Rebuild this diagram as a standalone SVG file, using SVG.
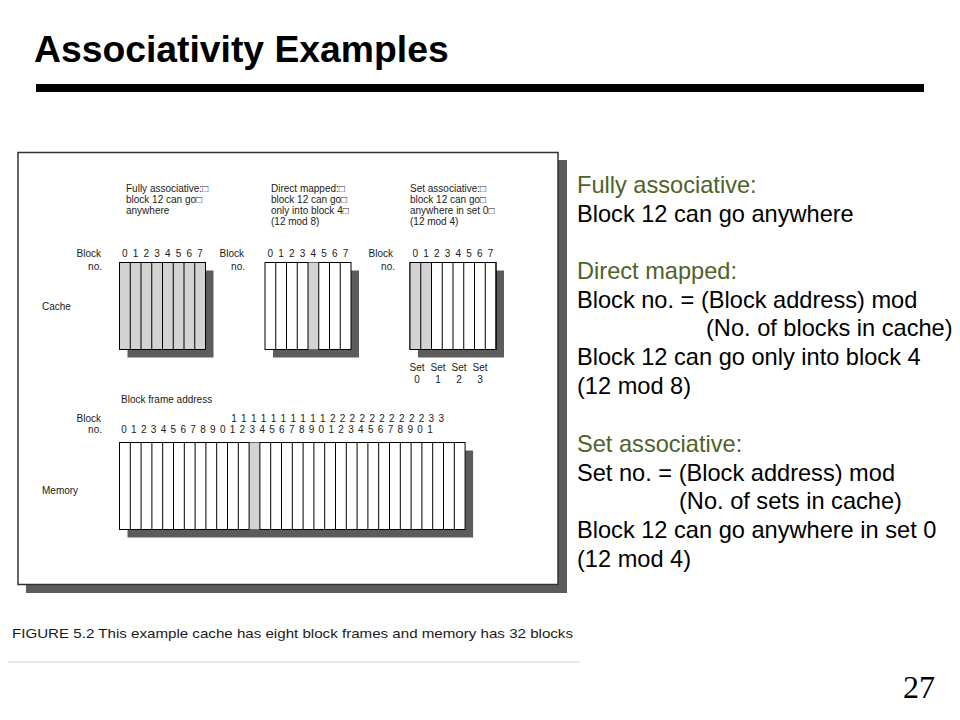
<svg xmlns="http://www.w3.org/2000/svg" width="960" height="720" viewBox="0 0 960 720">
<style>
.t{font-family:"Liberation Sans",Arial,sans-serif;font-size:10px;fill:#1a1a1a}
.e{text-anchor:end}
.m{text-anchor:middle}
.cell{fill:#fff;stroke:#000;stroke-width:1}
.g{fill:#d3d3d3}
.sh{fill:#5c5c5c}
.div{stroke:#000;stroke-width:1}
.b{font-family:"Liberation Sans",Arial,sans-serif;font-size:23.6px;fill:#000}
.h{fill:#4f6228}
</style>
<rect width="960" height="720" fill="#fff"/>
<g id="title">
<text x="34" y="62" font-family="Liberation Sans,Arial,sans-serif" font-size="37.3" font-weight="bold" fill="#000">Associativity Examples</text>
<rect x="36" y="84" width="888" height="8" fill="#000"/>
</g>
<g id="figure">
<rect x="26" y="160" width="541" height="433" class="sh"/>
<rect x="18" y="152.5" width="540" height="432" fill="#fff" stroke="#333" stroke-width="1.5"/>
<text class="t" x="42" y="310">Cache</text>
<text class="t" x="42" y="494">Memory</text>
</g>
<g id="cache-fully">
<text class="t" x="126" y="192">Fully associative:□</text>
<text class="t" x="126" y="203">block 12 can go□</text>
<text class="t" x="126" y="214">anywhere</text>
<text class="t e" x="101" y="257">Block</text>
<text class="t e" x="102" y="270">no.</text>
<text class="t m" x="124.9 135.6 146.4 157.1 167.9 178.6 189.4 200.1" y="257">01234567</text>
<rect x="127.5" y="270.5" width="86" height="87" class="sh"/>
<rect x="119.5" y="262.5" width="86" height="87" class="cell g"/>
<path class="div" d="M130.25 262.5V349.5M141 262.5V349.5M151.75 262.5V349.5M162.5 262.5V349.5M173.25 262.5V349.5M184 262.5V349.5M194.75 262.5V349.5"/>
</g>
<g id="cache-direct">
<text class="t" x="271" y="192">Direct mapped:□</text>
<text class="t" x="271" y="203">block 12 can go□</text>
<text class="t" x="271" y="214">only into block 4□</text>
<text class="t" x="271" y="225">(12 mod 8)</text>
<text class="t e" x="244" y="257">Block</text>
<text class="t e" x="245" y="270">no.</text>
<text class="t m" x="270.4 281.1 291.9 302.6 313.4 324.1 334.9 345.6" y="257">01234567</text>
<rect x="273" y="270.5" width="86" height="87" class="sh"/>
<rect x="265" y="262.5" width="86" height="87" class="cell"/>
<rect x="308" y="262.5" width="10.75" height="87" class="g"/>
<path class="div" d="M275.75 262.5V349.5M286.5 262.5V349.5M297.25 262.5V349.5M308 262.5V349.5M318.75 262.5V349.5M329.5 262.5V349.5M340.25 262.5V349.5"/>
</g>
<g id="cache-set">
<text class="t" x="410" y="192">Set associative:□</text>
<text class="t" x="410" y="203">block 12 can go□</text>
<text class="t" x="410" y="214">anywhere in set 0□</text>
<text class="t" x="410" y="225">(12 mod 4)</text>
<text class="t e" x="393" y="257">Block</text>
<text class="t e" x="395" y="270">no.</text>
<text class="t m" x="415.4 426.1 436.9 447.6 458.4 469.1 479.9 490.6" y="257">01234567</text>
<rect x="418" y="270.5" width="86" height="87" class="sh"/>
<rect x="410" y="262.5" width="86" height="87" class="cell"/>
<rect x="410" y="262.5" width="21.5" height="87" class="g"/>
<path class="div" d="M420.75 262.5V349.5M431.5 262.5V349.5M442.25 262.5V349.5M453 262.5V349.5M463.75 262.5V349.5M474.5 262.5V349.5M485.25 262.5V349.5"/>
<rect x="410" y="262.5" width="86" height="87" fill="none" stroke="#000"/>
<text class="t m" x="417" y="371">Set</text>
<text class="t m" x="438" y="371">Set</text>
<text class="t m" x="459" y="371">Set</text>
<text class="t m" x="480" y="371">Set</text>
<text class="t m" x="417 438 459 480" y="383">0123</text>
</g>
<g id="memory">
<text class="t" x="121" y="403">Block frame address</text>
<text class="t e" x="101" y="422">Block</text>
<text class="t e" x="102" y="433">no.</text>
<text class="t m" x="234 243.9 253.7 263.6 273.5 283.4 293.2 303.1 313 322.8 332.7 342.6 352.4 362.3 372.2 382.1 391.9 401.8 411.7 421.5 431.4 441.3" y="422">1111111111222222222233</text>
<text class="t m" x="124 133.9 143.7 153.6 163.5 173.4 183.2 193.1 203 212.8 222.7 232.6 242.4 252.3 262.2 272.1 281.9 291.8 301.7 311.5 321.4 331.3 341.1 351 360.9 370.8 380.6 390.5 400.4 410.2 420.1 430" y="433">01234567890123456789012345678901</text>
<rect x="127.5" y="450.5" width="345.6" height="87" class="sh"/>
<rect x="119.5" y="442.5" width="345.6" height="87" class="cell"/>
<rect x="249.1" y="442.5" width="10.8" height="87" class="g"/>
<path class="div" d="M130.3 442.5V529.5M141.1 442.5V529.5M151.9 442.5V529.5M162.7 442.5V529.5M173.5 442.5V529.5M184.3 442.5V529.5M195.1 442.5V529.5M205.9 442.5V529.5M216.7 442.5V529.5M227.5 442.5V529.5M238.3 442.5V529.5M249.1 442.5V529.5M259.9 442.5V529.5M270.7 442.5V529.5M281.5 442.5V529.5M292.3 442.5V529.5M303.1 442.5V529.5M313.9 442.5V529.5M324.7 442.5V529.5M335.5 442.5V529.5M346.3 442.5V529.5M357.1 442.5V529.5M367.9 442.5V529.5M378.7 442.5V529.5M389.5 442.5V529.5M400.3 442.5V529.5M411.1 442.5V529.5M421.9 442.5V529.5M432.7 442.5V529.5M443.5 442.5V529.5M454.3 442.5V529.5"/>
</g>
<g id="caption">
<text x="12" y="638" font-family="Liberation Sans,Arial,sans-serif" font-size="13.5" fill="#1a1a1a" textLength="561" lengthAdjust="spacingAndGlyphs">FIGURE 5.2  This example cache has eight block frames and memory has 32 blocks</text>
<line x1="8" y1="662" x2="580" y2="662" stroke="#d0d0d0" stroke-width="1"/>
</g>
<g id="notes">
<text class="b h" x="577" y="193">Fully associative:</text>
<text class="b" x="577" y="222">Block 12 can go anywhere</text>
<text class="b h" x="577" y="279">Direct mapped:</text>
<text class="b" x="577" y="308">Block no. = (Block address) mod</text>
<text class="b" x="706" y="336">(No. of blocks in cache)</text>
<text class="b" x="577" y="365">Block 12 can go only into block 4</text>
<text class="b" x="577" y="394">(12 mod 8)</text>
<text class="b h" x="577" y="452">Set associative:</text>
<text class="b" x="577" y="481">Set no. = (Block address) mod</text>
<text class="b" x="679" y="509">(No. of sets in cache)</text>
<text class="b" x="577" y="538">Block 12 can go anywhere in set 0</text>
<text class="b" x="577" y="567">(12 mod 4)</text>
</g>
<g id="connectors"/>
<text x="903" y="698" font-family="Liberation Serif,Times New Roman,serif" font-size="32" fill="#000">27</text>
</svg>
